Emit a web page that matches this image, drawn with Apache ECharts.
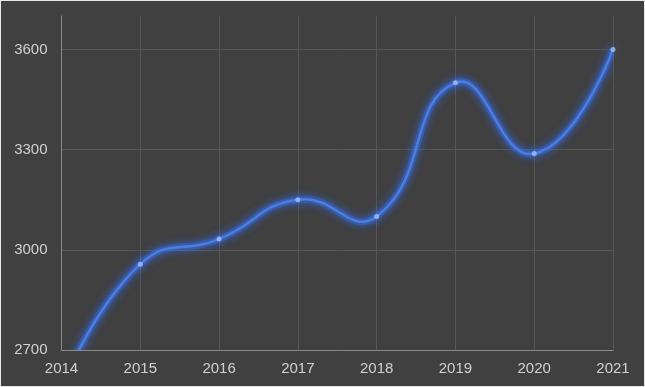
<!DOCTYPE html>
<html>
<head>
<meta charset="utf-8">
<script src="https://cdn.jsdelivr.net/npm/echarts@6/dist/echarts.min.js"></script>
<style>
html,body{margin:0;padding:0;background:#e8e8e8;width:645px;height:387px;overflow:hidden;}
#c{position:absolute;left:1px;top:1px;width:643px;height:385px;}
</style>
</head>
<body>
<div id="c"></div>
<script>
const categories = ['2014','2015','2016','2017','2018','2019','2020','2021'];
const values = [2585, 2957, 3032, 3150, 3100, 3500, 3288, 3600];
const yMin = 2700, yMax = 3700, yInterval = 300;

const SMOOTH = 0.5;
const lineColor = '#4a7ee0';

// classic smooth curve through the points, computed from axis coords
function buildPath(pts) {
  let minX = Infinity, minY = Infinity, maxX = -Infinity, maxY = -Infinity;
  pts.forEach(p => { minX = Math.min(minX, p[0]); maxX = Math.max(maxX, p[0]); minY = Math.min(minY, p[1]); maxY = Math.max(maxY, p[1]); });
  const clamp = (c) => [Math.min(Math.max(c[0], minX), maxX), Math.min(Math.max(c[1], minY), maxY)];
  let d = 'M' + pts[0][0] + ' ' + pts[0][1];
  let cp0 = pts[0].slice();
  const n = pts.length;
  for (let i = 1; i < n; i++) {
    const p = pts[i];
    let cp1, nextCp0;
    if (i === n - 1) {
      cp1 = p.slice();
      nextCp0 = p.slice();
    } else {
      const prev = pts[i - 1], next = pts[i + 1];
      const v = [next[0] - prev[0], next[1] - prev[1]];
      const lp = Math.hypot(p[0] - prev[0], p[1] - prev[1]);
      const ln = Math.hypot(next[0] - p[0], next[1] - p[1]);
      const r = ln / (ln + lp);
      cp1 = [p[0] - v[0] * SMOOTH * (1 - r), p[1] - v[1] * SMOOTH * (1 - r)];
      nextCp0 = [p[0] + v[0] * SMOOTH * r, p[1] + v[1] * SMOOTH * r];
    }
    const a = clamp(cp0), b = clamp(cp1);
    d += ' C' + a[0] + ' ' + a[1] + ' ' + b[0] + ' ' + b[1] + ' ' + p[0] + ' ' + p[1];
    cp0 = nextCp0;
  }
  return d;
}

const chart = echarts.init(document.getElementById('c'), null, {renderer:'canvas'});
chart.setOption({
  backgroundColor: '#404040',
  animation: false,
  grid: {left: 60.5, right: 31, top: 15, bottom: 36, containLabel: false},
  xAxis: {
    type: 'category',
    data: categories,
    boundaryGap: false,
    axisLine: {show: true, lineStyle: {color: '#8a8a8a', width: 1}},
    axisTick: {show: false},
    axisLabel: {color: '#d0d0d0', fontSize: 15, margin: 11, fontFamily: 'Liberation Sans'},
    splitLine: {show: true, lineStyle: {color: '#575757', width: 1}}
  },
  yAxis: {
    type: 'value',
    min: yMin, max: yMax, interval: yInterval,
    axisLine: {show: true, lineStyle: {color: '#8a8a8a', width: 1}},
    axisTick: {show: false},
    axisLabel: {color: '#d0d0d0', fontSize: 15, margin: 14, showMaxLabel: false, fontFamily: 'Liberation Sans',
      formatter: (v) => String(v)},
    splitLine: {show: true, lineStyle: {color: ['#575757','#575757','#575757','#575757','transparent'], width: 1}}
  },
  series: [{
    type: 'custom',
    data: values.map((v, i) => [i, v]),
    clip: true,
    renderItem: function (params, api) {
      if (params.dataIndex !== 0) return null;
      const pts = values.map((v, i) => api.coord([i, v]));
      const d = buildPath(pts);
      return {
        type: 'group',
        children: [{
          type: 'path',
          shape: {pathData: d},
          style: {fill: null, stroke: 'rgba(60,115,240,0.35)', lineWidth: 7,
            shadowColor: 'rgba(50,110,255,0.9)', shadowBlur: 10}
        }, {
          type: 'path',
          shape: {pathData: d},
          style: {fill: null, stroke: lineColor, lineWidth: 2.5,
            shadowColor: 'rgba(50,110,255,1)', shadowBlur: 8}
        }]
      };
    }
  }, {
    type: 'scatter',
    data: values,
    symbol: 'circle',
    symbolSize: 5,
    clip: true,
    itemStyle: {color: '#a3c0f5', shadowColor: 'rgba(60,120,255,0.9)', shadowBlur: 8}
  }]
});
</script>
</body>
</html>
